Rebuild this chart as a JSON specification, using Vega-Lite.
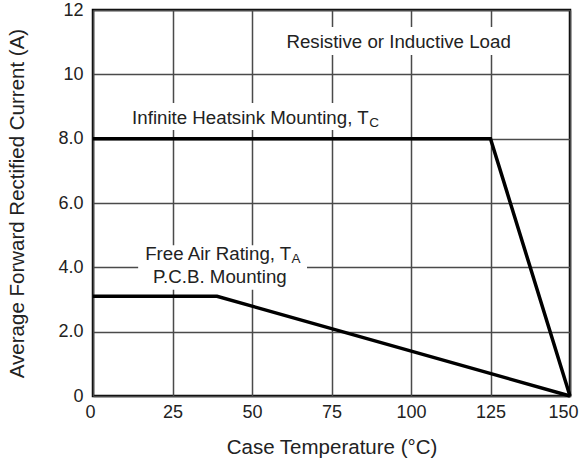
{
  "$schema": "https://vega.github.io/schema/vega-lite/v6.json",
  "width": 477,
  "height": 386,
  "autosize": "none",
  "padding": {"left": 93, "top": 10, "right": 12, "bottom": 67},
  "background": "white",
  "config": {
    "font": "Liberation Sans",
    "view": {"stroke": "black", "strokeWidth": 2.5},
    "axis": {
      "labelFont": "Liberation Sans",
      "titleFont": "Liberation Sans",
      "labelFontSize": 18,
      "titleFontSize": 20.5,
      "labelColor": "#222",
      "titleColor": "#222",
      "titleFontWeight": "normal",
      "labelOverlap": false,
      "grid": true,
      "gridColor": "#4a4a4a",
      "gridWidth": 1.5,
      "gridOpacity": 1,
      "ticks": false,
      "domain": false
    }
  },
  "datasets": {
    "curves": [
      {"series": "Infinite Heatsink", "temp": 0, "current": 8},
      {"series": "Infinite Heatsink", "temp": 125, "current": 8},
      {"series": "Infinite Heatsink", "temp": 150, "current": 0},
      {"series": "Free Air", "temp": 0, "current": 3.1},
      {"series": "Free Air", "temp": 39, "current": 3.1},
      {"series": "Free Air", "temp": 150, "current": 0}
    ],
    "boxes": [
      {"x1": 59.7, "x2": 132.7, "y1": 10.6, "y2": 11.47},
      {"x1": 10, "x2": 92, "y1": 8.27, "y2": 9.11},
      {"x1": 14.2, "x2": 67.3, "y1": 3.3, "y2": 4.69}
    ],
    "centerLabels": [
      {"text": "Resistive or Inductive Load", "x": 96.1, "y": 11.0},
      {"text": "P.C.B. Mounting", "x": 39.9, "y": 3.7}
    ],
    "leftLabels": [
      {"text": "Infinite Heatsink Mounting, T", "x": 12.3, "y": 8.64},
      {"text": "Free Air Rating, T", "x": 16.4, "y": 4.41}
    ],
    "subLabels": [
      {"text": "C", "x": 86.9, "y": 8.5},
      {"text": "A", "x": 62.4, "y": 4.27}
    ]
  },
  "layer": [
    {
      "data": {"name": "boxes"},
      "mark": {"type": "rect", "fill": "white", "stroke": null},
      "encoding": {
        "x": {"field": "x1", "type": "quantitative", "scale": {"domain": [0, 150], "nice": false},
          "axis": {"values": [0, 25, 50, 75, 100, 125, 150], "title": "Case Temperature (°C)", "labelPadding": 7, "titlePadding": 16,
            "labelFlush": true, "labelFlushOffset": 8}},
        "x2": {"field": "x2"},
        "y": {"field": "y1", "type": "quantitative", "scale": {"domain": [0, 12], "nice": false},
          "axis": {"values": [0, 2, 4, 6, 8, 10, 12], "title": "Average Forward Rectified Current (A)", "labelPadding": 10, "titlePadding": 30,
            "labelFlush": false,
            "labelExpr": "datum.value == 0 ? '0' : (datum.value >= 10 ? format(datum.value, 'd') : format(datum.value, '.1f'))"}},
        "y2": {"field": "y2"}
      }
    },
    {
      "data": {"name": "curves"},
      "mark": {"type": "line", "color": "black", "strokeWidth": 3.5, "strokeJoin": "miter"},
      "encoding": {
        "x": {"field": "temp", "type": "quantitative"},
        "y": {"field": "current", "type": "quantitative"},
        "detail": {"field": "series"}
      }
    },
    {
      "data": {"name": "centerLabels"},
      "mark": {"type": "text", "align": "center", "baseline": "middle", "fontSize": 18.7, "color": "#222"},
      "encoding": {
        "x": {"field": "x", "type": "quantitative"},
        "y": {"field": "y", "type": "quantitative"},
        "text": {"field": "text"}
      }
    },
    {
      "data": {"name": "leftLabels"},
      "mark": {"type": "text", "align": "left", "baseline": "middle", "fontSize": 18.7, "color": "#222"},
      "encoding": {
        "x": {"field": "x", "type": "quantitative"},
        "y": {"field": "y", "type": "quantitative"},
        "text": {"field": "text"}
      }
    },
    {
      "data": {"name": "subLabels"},
      "mark": {"type": "text", "align": "left", "baseline": "middle", "fontSize": 13.5, "color": "#222"},
      "encoding": {
        "x": {"field": "x", "type": "quantitative"},
        "y": {"field": "y", "type": "quantitative"},
        "text": {"field": "text"}
      }
    }
  ]
}
